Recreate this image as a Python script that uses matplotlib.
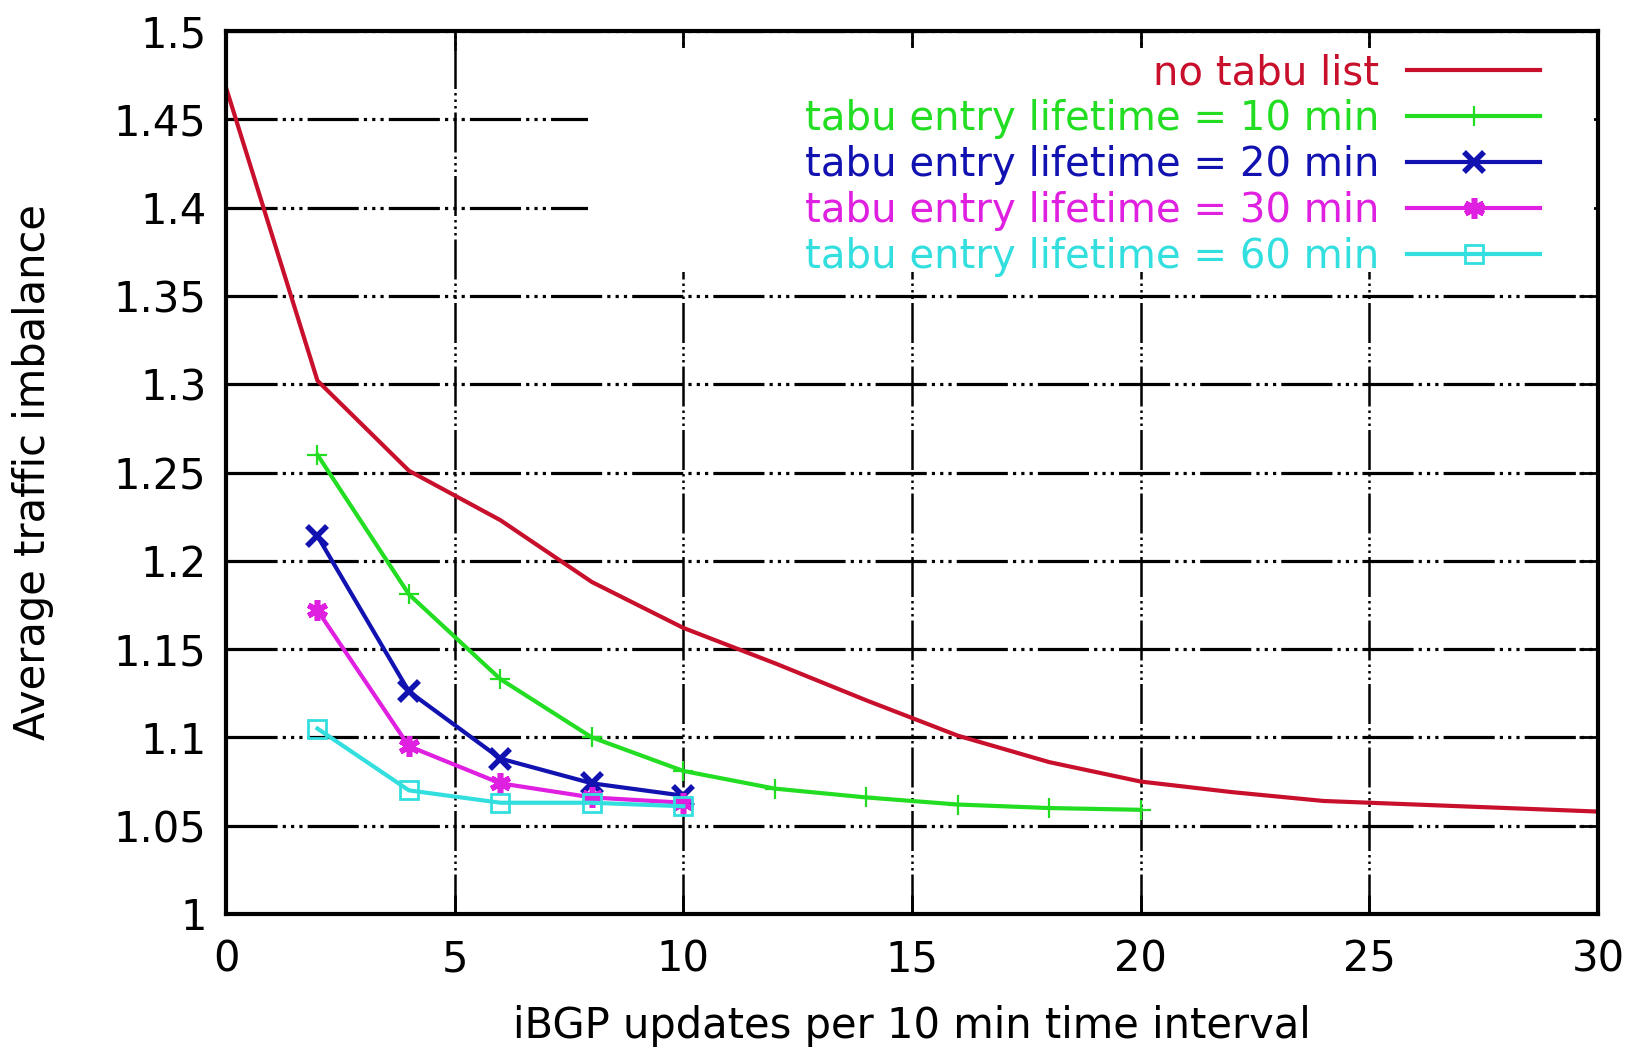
import matplotlib
matplotlib.use("Agg")
import matplotlib.pyplot as plt
from matplotlib.patches import Rectangle
from matplotlib.ticker import FormatStrFormatter

# data
x_red = [0, 2, 4, 6, 8, 10, 12, 14, 16, 18, 20, 22, 24, 26, 28, 30]
no_tabu = [1.468, 1.302, 1.251, 1.223, 1.188, 1.162, 1.142, 1.121, 1.101,
           1.086, 1.075, 1.069, 1.064, 1.062, 1.060, 1.058]

x_10 = [2, 4, 6, 8, 10, 12, 14, 16, 18, 20]
tabu_10 = [1.260, 1.181, 1.133, 1.100, 1.081, 1.071, 1.066, 1.062, 1.060, 1.059]

x_short = [2, 4, 6, 8, 10]
tabu_20 = [1.214, 1.126, 1.088, 1.074, 1.067]
tabu_30 = [1.172, 1.095, 1.074, 1.066, 1.063]
tabu_60 = [1.105, 1.070, 1.063, 1.063, 1.061]

xticks = [0, 5, 10, 15, 20, 25, 30]
yticks = [1.0, 1.05, 1.1, 1.15, 1.2, 1.25, 1.3, 1.35, 1.4, 1.45, 1.5]

plt.rcParams["font.family"] = "DejaVu Sans"

fig = plt.figure(figsize=(16.34, 10.47), dpi=100)
ax = fig.add_axes([226 / 1634, 1 - 914 / 1047, 1372 / 1634, 883 / 1047])

grid_ls = (0, (16, 1.6, 1, 1.6, 1, 1.6, 1, 1.6))
ax.set_axisbelow(True)
ax.yaxis.grid(True, color="black", linewidth=2.3, linestyle=grid_ls)
ax.xaxis.grid(True, color="black", linewidth=1.8, linestyle=grid_ls)

# opaque key area, like gnuplot
ax.add_patch(Rectangle((0.264, 0.727), 0.733, 0.254, transform=ax.transAxes,
                       facecolor="white", edgecolor="none", zorder=1))

lw = 3.0
ax.plot(x_red, no_tabu, color="#c8102c", lw=lw, label="no tabu list", zorder=3)
ax.plot(x_10, tabu_10, color="#22dd22", lw=lw, marker="+", markersize=14,
        markeredgewidth=1.6, label="tabu entry lifetime = 10 min", zorder=3)
ax.plot(x_short, tabu_20, color="#1212b0", lw=lw, marker="x", markersize=14,
        markeredgewidth=4, label="tabu entry lifetime = 20 min", zorder=4)
ax.plot(x_short, tabu_30, color="#e020e0", lw=lw, marker=(6, 2, 0), markersize=15,
        markeredgewidth=4, label="tabu entry lifetime = 30 min", zorder=4)
ax.plot(x_short, tabu_60, color="#33dede", lw=lw, marker="s", markersize=13,
        markerfacecolor="none", markeredgewidth=2,
        label="tabu entry lifetime = 60 min", zorder=5)

ax.set_xlim(0, 30)
ax.set_ylim(1.0, 1.5)
ax.set_xticks(xticks)
ax.set_yticks(yticks)
ax.yaxis.set_major_formatter(FormatStrFormatter("%g"))

ax.tick_params(direction="in", length=14, width=2, top=True, right=True,
               labelsize=30, pad=14)
ax.tick_params(axis="x", pad=18)
for sp in ax.spines.values():
    sp.set_linewidth(3)
    sp.set_zorder(6)

ax.set_xlabel("iBGP updates per 10 min time interval", fontsize=30)
ax.set_ylabel("Average traffic imbalance", fontsize=30)
ax.xaxis.set_label_coords(0.5, -0.103)
ax.yaxis.set_label_coords(-0.125, 0.5)

leg = ax.legend(loc="upper right", bbox_to_anchor=(0.958, 0.975), frameon=False,
                markerfirst=False, fontsize=29, labelcolor="linecolor",
                handlelength=3.3, handletextpad=0.7, labelspacing=0.15,
                borderpad=0, borderaxespad=0, numpoints=1)
leg.set_zorder(7)

fig.savefig("out.png", dpi=100)
